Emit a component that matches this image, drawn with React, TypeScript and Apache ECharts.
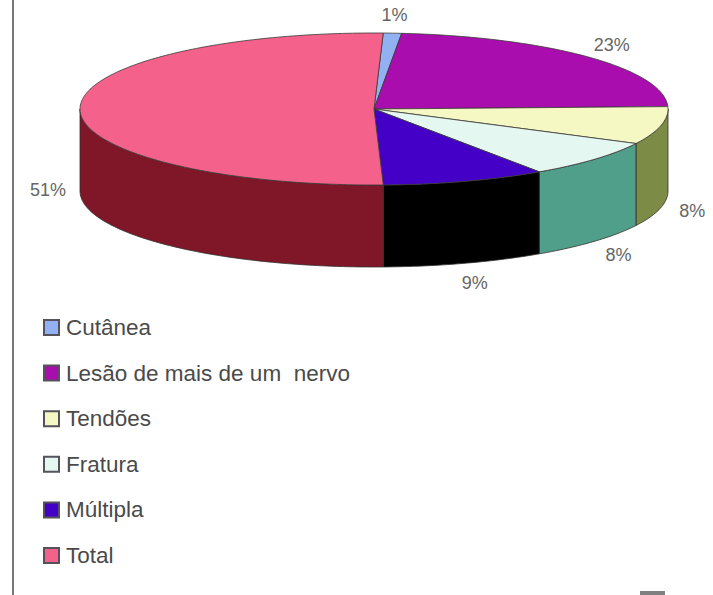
import React, { useEffect, useRef } from "react";
import * as echarts from "echarts";

const categories = ["Cutânea", "Lesão de mais de um  nervo", "Tendões", "Fratura", "Múltipla", "Total"];
const percentages = [1, 23, 8, 8, 9, 51];
const topColors = ["#92B1F2", "#A90DAD", "#F6F8C4", "#E4F7F0", "#4400C6", "#F4628C"];
const wallColors = ["#5F78A8", "#70086F", "#7C8C46", "#4F9F8B", "#000000", "#7F1728"];

const CX = 374;
const CY = 109;
const RX = 294;
const RY = 76;
const DEPTH = 82;
const START_DEG = 1.8;
const TEXT_FONT = "'Liberation Sans', Arial, sans-serif";

const total = percentages.reduce((sum, v) => sum + v, 0);

function rimPoint(deg: number, dy = 0): number[] {
  const a = (deg * Math.PI) / 180;
  return [CX + RX * Math.sin(a), CY - RY * Math.cos(a) + dy];
}

function arcPoints(from: number, to: number, dy = 0): number[][] {
  const steps = Math.max(2, Math.ceil(Math.abs(to - from)));
  const pts: number[][] = [];
  for (let s = 0; s <= steps; s++) pts.push(rimPoint(from + ((to - from) * s) / steps, dy));
  return pts;
}

// One pie slice in oblique projection: visible wall, top face and its percentage label.
function sliceRenderer(index: number) {
  const before = percentages.slice(0, index).reduce((sum, v) => sum + v, 0);
  return (_params: unknown, api: any) => {
    const value = api.value(0) as number;
    const from = START_DEG + (before / total) * 360;
    const to = from + (value / total) * 360;
    const children: any[] = [];

    const wallFrom = Math.max(from, 90);
    const wallTo = Math.min(to, 270);
    if (wallTo > wallFrom) {
      const upper = arcPoints(wallFrom, wallTo);
      const lower = arcPoints(wallTo, wallFrom, DEPTH);
      children.push({
        type: "polygon",
        shape: { points: [...upper, ...lower] },
        style: { fill: wallColors[index], stroke: "#33302f", lineWidth: 0.8 },
      });
    }

    children.push({
      type: "polygon",
      shape: { points: [[CX, CY], ...arcPoints(from, to)] },
      style: { fill: topColors[index], stroke: "#3a3a36", lineWidth: 0.8 },
    });

    const mid = (((from + to) / 2) * Math.PI) / 180;
    const lowerHalf = Math.cos(mid) < 0;
    const labelX = CX + (RX + 32) * Math.sin(mid);
    const labelY = lowerHalf
      ? CY - (RY + 22) * Math.cos(mid) + DEPTH - 1
      : CY - (RY + 18) * Math.cos(mid);
    children.push({
      type: "text",
      x: labelX,
      y: labelY,
      style: {
        text: `${value}%`,
        fill: "#666666",
        font: `18px ${TEXT_FONT}`,
        textAlign: "center",
        textVerticalAlign: "middle",
      },
    });

    return { type: "group", children };
  };
}

export default function App() {
  const ref = useRef<HTMLDivElement>(null);

  useEffect(() => {
    const chart = echarts.init(ref.current!, undefined, { renderer: "svg" });
    chart.setOption({
      animation: false,
      backgroundColor: "#ffffff",
      legend: {
        orient: "vertical",
        left: 38,
        top: 311,
        itemWidth: 15,
        itemHeight: 15,
        itemGap: 22.6,
        padding: 5,
        icon: "rect",
        selectedMode: false,
        data: categories,
        itemStyle: { borderColor: "#55525c", borderWidth: 2 },
        textStyle: {
          color: "#4a4a4a",
          fontFamily: TEXT_FONT,
          fontSize: 22.5,
          lineHeight: 20,
          padding: [0, 0, 0, 2],
        },
      },
      graphic: [
        { type: "line", shape: { x1: 13, y1: 0, x2: 13, y2: 595 }, style: { stroke: "#777777", lineWidth: 2 } },
        { type: "rect", shape: { x: 640, y: 591, width: 25, height: 4 }, style: { fill: "#808080" } },
      ],
      series: categories.map((name, i) => ({
        type: "custom",
        name,
        coordinateSystem: "none",
        itemStyle: { color: topColors[i] },
        data: [[percentages[i]]],
        renderItem: sliceRenderer(i),
      })),
    });
    return () => chart.dispose();
  }, []);

  return <div ref={ref} style={{ position: "absolute", left: 0, top: 0, width: 713, height: 595 }} />;
}
